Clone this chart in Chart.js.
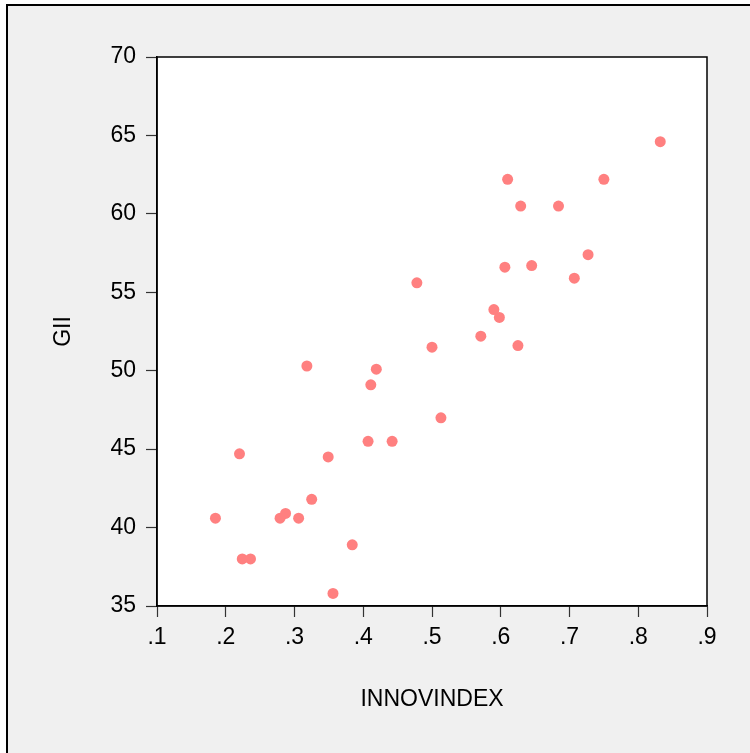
<!DOCTYPE html>
<html>
<head>
<meta charset="utf-8">
<script src="https://cdn.jsdelivr.net/npm/chart.js@4/dist/chart.umd.min.js"></script>
<style>
  html, body { margin: 0; padding: 0; background: #ffffff; overflow: hidden; }
  #frame {
    position: absolute; left: 6px; top: 4px; width: 800px; height: 800px;
    background: #f0f0f0; border-left: 2px solid #000; border-top: 2px solid #000;
  }
  #wrap { position: absolute; left: 0; top: 0; width: 750px; height: 753px; }
</style>
</head>
<body>
<div id="frame"></div>
<div id="wrap"><canvas id="scatter"></canvas></div>
<script>
// INNOVINDEX vs GII
const innovIndex = [
  0.832, 0.610, 0.750, 0.629, 0.684, 0.727, 0.606, 0.645, 0.707, 0.478,
  0.590, 0.598, 0.571, 0.625, 0.500, 0.318, 0.419, 0.411, 0.513, 0.220,
  0.349, 0.407, 0.442, 0.325, 0.185, 0.279, 0.287, 0.306, 0.384, 0.224,
  0.236, 0.356,
]
const gii = [
  64.6, 62.2, 62.2, 60.5, 60.5, 57.4, 56.6, 56.7, 55.9, 55.6,
  53.9, 53.4, 52.2, 51.6, 51.5, 50.3, 50.1, 49.1, 47.0, 44.7,
  44.5, 45.5, 45.5, 41.8, 40.6, 40.6, 40.9, 40.6, 38.9, 38.0,
  38.0, 35.8,
]
const xTicks = [0.1, 0.2, 0.3, 0.4, 0.5, 0.6, 0.7, 0.8, 0.9]
const yTicks = [35, 40, 45, 50, 55, 60, 65, 70]

const points = innovIndex.map((x, i) => ({ x: x, y: gii[i] }))

// white plot area with a box round it
const plotBox = {
  id: 'plotBox',
  beforeDraw(chart) {
    const { ctx, chartArea: a } = chart
    ctx.save()
    ctx.fillStyle = '#ffffff'
    ctx.fillRect(a.left, a.top, a.right - a.left, a.bottom - a.top)
    ctx.restore()
  },
  afterDatasetsDraw(chart) {
    const { ctx, chartArea: a } = chart
    ctx.save()
    ctx.strokeStyle = '#000000'
    ctx.lineWidth = 1.5
    ctx.strokeRect(a.left, a.top, a.right - a.left, a.bottom - a.top)
    ctx.restore()
  },
}

const font = { family: 'Liberation Sans, Arial, sans-serif', size: 23 }

new Chart(document.getElementById('scatter'), {
  type: 'scatter',
  data: {
    datasets: [
      {
        data: points,
        backgroundColor: '#ff8080',
        borderWidth: 0,
        pointRadius: 5.5,
        pointHoverRadius: 5.5,
      },
    ],
  },
  options: {
    responsive: true,
    maintainAspectRatio: false,
    animation: false,
    layout: { padding: { left: 0, top: 57, right: 43, bottom: 0 } },
    plugins: { legend: { display: false }, tooltip: { enabled: false } },
    scales: {
      x: {
        type: 'linear',
        min: xTicks[0],
        max: xTicks[xTicks.length - 1],
        afterBuildTicks: scale => { scale.ticks = xTicks.map(v => ({ value: v })) },
        afterFit: scale => { scale.height = 147 },
        ticks: {
          color: '#000000',
          font: font,
          padding: 7,
          maxRotation: 0,
          callback: v => '.' + Math.round(v * 10),
        },
        grid: { drawOnChartArea: false, tickLength: 11, color: '#333333', tickWidth: 1.2 },
        border: { color: '#000000', width: 1.5 },
        title: { display: true, text: 'INNOVINDEX', color: '#000000', font: font, padding: 40 },
      },
      y: {
        type: 'linear',
        min: yTicks[0],
        max: yTicks[yTicks.length - 1],
        afterBuildTicks: scale => { scale.ticks = yTicks.map(v => ({ value: v })) },
        afterFit: scale => { scale.width = 157 },
        ticks: { color: '#000000', font: font, padding: 10 },
        grid: { drawOnChartArea: false, tickLength: 11, color: '#333333', tickWidth: 1.2 },
        border: { color: '#000000', width: 1.5 },
        title: { display: true, text: 'GII', color: '#000000', font: font, padding: 50 },
      },
    },
  },
  plugins: [plotBox],
})
</script>
</body>
</html>
